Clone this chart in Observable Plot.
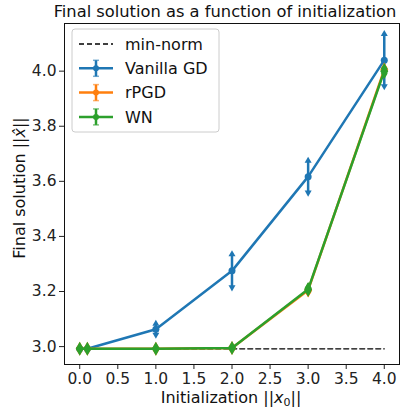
<!DOCTYPE html>
<html><head><meta charset="utf-8">
<script src="https://cdn.jsdelivr.net/npm/d3@7"></script>
<script src="https://cdn.jsdelivr.net/npm/@observablehq/plot@0.6"></script>
<style>
body{margin:0;background:#fff}
svg{font-family:"DejaVu Sans",sans-serif}
</style>
</head><body><div id="chart"></div>
<script>
const xs = [0, 0.1, 1, 2, 3, 4];
const gd = [2.992, 2.992, 3.063, 3.275, 3.617, 4.04];
const gdErr = [0.003, 0.003, 0.02, 0.06, 0.058, 0.095];
const rpgd = [2.992, 2.992, 2.992, 2.995, 3.205, 4.005];
const rpgdErr = [0.003, 0.003, 0.003, 0.003, 0.012, 0.012];
const wn = [2.992, 2.992, 2.992, 2.995, 3.208, 4.0];
const wnErr = [0.003, 0.003, 0.003, 0.003, 0.012, 0.015];
const minNormX = [0, 4];
const minNorm = [2.992, 2.992];
const xTicks = [0, 0.5, 1, 1.5, 2, 2.5, 3, 3.5, 4];
const yTicks = [3.0, 3.2, 3.4, 3.6, 3.8, 4.0];
const seriesNames = ["Vanilla GD", "rPGD", "WN"];
const colors = {"Vanilla GD": "#1f77b4", "rPGD": "#ff7f0e", "WN": "#2ca02c"};

const rows = [];
[[gd, gdErr], [rpgd, rpgdErr], [wn, wnErr]].forEach(([v, e], i) => {
  xs.forEach((x, j) => rows.push({s: seriesNames[i], x, y: v[j], lo: v[j] - e[j], hi: v[j] + e[j]}));
});
const mn = minNormX.map((x, i) => ({x, y: minNorm[i]}));

const marks = [
  Plot.axisX({ticks: xTicks, tickFormat: d3.format(".1f"), tickSize: 5, tickPadding: 3, fontSize: 15.5, label: null, stroke: "#222", fill: "#222"}),
  Plot.axisY({ticks: yTicks, tickFormat: d3.format(".1f"), tickSize: 5, tickPadding: 3, fontSize: 15.5, label: null, stroke: "#222", fill: "#222"}),
  Plot.line(mn, {x: "x", y: "y", stroke: "black", strokeWidth: 1.3, strokeDasharray: "5,3"})
];
for (const s of seriesNames) {
  const d = rows.filter(r => r.s === s);
  const c = colors[s];
  marks.push(
    Plot.ruleX(d, {x: "x", y1: "lo", y2: "hi", stroke: c, strokeWidth: 2.5}),
    Plot.dot(d, {x: "x", y: "hi", symbol: "triangle", r: 2.6, fill: c, stroke: "none"}),
    Plot.dot(d, {x: "x", y: "lo", symbol: "triangle", r: 2.6, rotate: 180, fill: c, stroke: "none"}),
    Plot.line(d, {x: "x", y: "y", stroke: c, strokeWidth: 2.5}),
    Plot.dot(d, {x: "x", y: "y", symbol: s === "Vanilla GD" ? "circle" : "diamond", r: s === "Vanilla GD" ? 3.5 : 4.2, fill: c, stroke: "none"})
  );
}
marks.push(Plot.frame({stroke: "#111", strokeWidth: 1}));

const plot = Plot.plot({
  width: 409, height: 408,
  marginTop: 23, marginLeft: 64, marginRight: 10, marginBottom: 44,
  style: {fontFamily: "DejaVu Sans, sans-serif", fontSize: "15.5px", color: "#222", background: "#fff"},
  x: {domain: [-0.2, 4.2]},
  y: {domain: [2.935, 4.173]},
  marks
});
document.getElementById("chart").appendChild(plot);

const svg = d3.select(plot);
svg.append("text").attr("x", 225).attr("y", 17).attr("text-anchor", "middle")
  .attr("font-size", 16.3).attr("fill", "#111").text("Final solution as a function of initialization");
svg.append("text").attr("x", 231).attr("y", 403).attr("text-anchor", "middle")
  .attr("font-size", 16).attr("fill", "#111")
  .html('Initialization ||<tspan font-style="italic">x</tspan><tspan font-size="11" dy="3">0</tspan><tspan dy="-3">||</tspan>');
svg.append("text").attr("transform", "translate(25,188) rotate(-90)").attr("text-anchor", "middle")
  .attr("font-size", 16).attr("fill", "#111")
  .html('Final solution ||<tspan font-style="italic">x̂</tspan>||');

// legend
const lg = svg.append("g").attr("text-anchor", "start");
lg.append("rect").attr("x", 72).attr("y", 29).attr("width", 147).attr("height", 103).attr("rx", 3)
  .attr("fill", "white").attr("fill-opacity", 0.8).attr("stroke", "#ccc");
const items = [{n: "min-norm", c: "black", dash: true}].concat(seriesNames.map(n => ({n, c: colors[n]})));
items.forEach((it, i) => {
  const y = 44 + i * 24.3;
  if (it.dash) {
    lg.append("line").attr("x1", 79).attr("x2", 113).attr("y1", y).attr("y2", y)
      .attr("stroke", "black").attr("stroke-width", 1.3).attr("stroke-dasharray", "5,3");
  } else {
    lg.append("line").attr("x1", 79).attr("x2", 113).attr("y1", y).attr("y2", y).attr("stroke", it.c).attr("stroke-width", 2.5);
    lg.append("line").attr("x1", 96).attr("x2", 96).attr("y1", y - 8).attr("y2", y + 8).attr("stroke", it.c).attr("stroke-width", 2.5);
    lg.append("line").attr("x1", 93).attr("x2", 99).attr("y1", y - 8).attr("y2", y - 8).attr("stroke", it.c).attr("stroke-width", 1.5).attr("opacity", 0.6);
    lg.append("line").attr("x1", 93).attr("x2", 99).attr("y1", y + 8).attr("y2", y + 8).attr("stroke", it.c).attr("stroke-width", 1.5).attr("opacity", 0.6);
    lg.append("circle").attr("cx", 96).attr("cy", y).attr("r", 3).attr("fill", it.c);
  }
  lg.append("text").attr("x", 125).attr("y", y).attr("dy", "0.35em").attr("font-size", 16).attr("fill", "#111").text(it.n);
});
</script></body></html>
